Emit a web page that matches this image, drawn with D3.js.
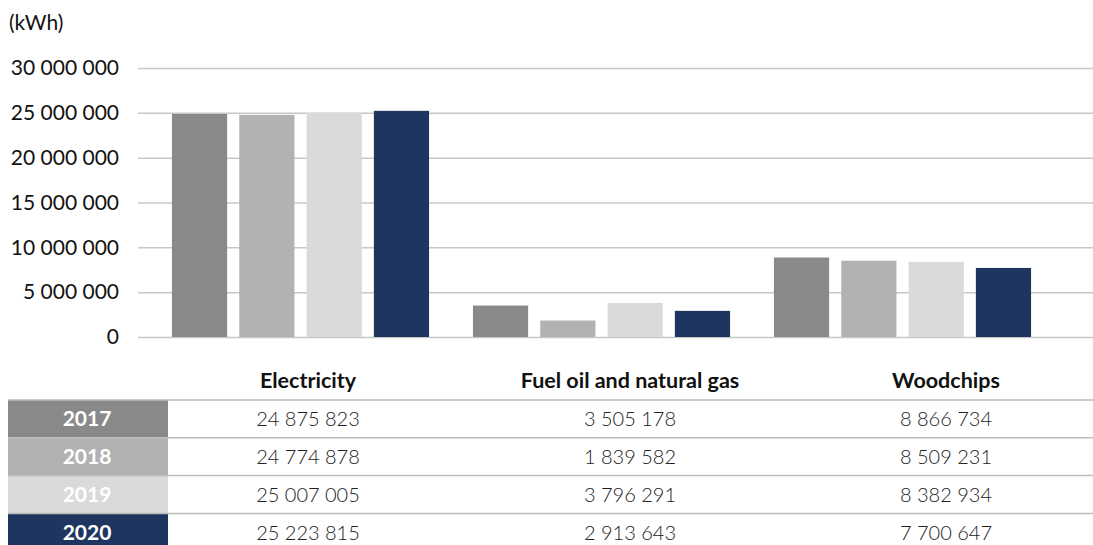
<!DOCTYPE html>
<html>
<head>
<meta charset="utf-8">
<script src="https://cdn.jsdelivr.net/npm/d3@7"></script>
<style>
  body { margin: 0; background: #fff; }
  svg { display: block; font-family: Lato, "Open Sans", sans-serif; }
</style>
</head>
<body>
<svg width="1093" height="545"></svg>
<script>
const categories = ["Electricity", "Fuel oil and natural gas", "Woodchips"];
const years = ["2017", "2018", "2019", "2020"];
const values2017 = [24875823, 3505178, 8866734];
const values2018 = [24774878, 1839582, 8509231];
const values2019 = [25007005, 3796291, 8382934];
const values2020 = [25223815, 2913643, 7700647];
const yTicks = [0, 5000000, 10000000, 15000000, 20000000, 25000000, 30000000];
const unitLabel = "(kWh)";

const series = [values2017, values2018, values2019, values2020];
const colors = ["#898989", "#b2b2b2", "#dadada", "#1e3560"];

const width = 1093;
const height = 545;
const plot = { left: 138, right: 1093, top: 68, bottom: 337 };

// space as thousands separator
const fmt = d3.formatLocale({ decimal: ",", thousands: " ", grouping: [3], currency: ["", ""] }).format(",d");

const svg = d3.select("svg");

// scales
const x0 = d3.scaleBand().domain(categories).range([150, 1053]);
const x1 = d3.scaleBand().domain(years).range([0, x0.bandwidth()])
  .paddingInner(0.18).paddingOuter(0.326);
const y = d3.scaleLinear().domain([0, 30000000]).range([plot.bottom, plot.top]);

// gridlines + y labels
const yAxis = d3.axisLeft(y).tickValues(yTicks).tickSize(-(plot.right - plot.left))
  .tickPadding(19).tickFormat(d => fmt(d));
const gy = svg.append("g").attr("transform", `translate(${plot.left},0)`).call(yAxis);
gy.select(".domain").remove();
gy.selectAll(".tick line").attr("stroke", "#c8c8c8").attr("stroke-width", 1.5);
gy.selectAll(".tick text").attr("fill", "#111").style("font-size", "21px")
  .style("font-family", "Lato, sans-serif");

svg.append("text").attr("x", 9).attr("y", 30).text(unitLabel)
  .attr("fill", "#111").style("font-size", "21px");

// bars
categories.forEach((cat, ci) => {
  const g = svg.append("g").attr("transform", `translate(${x0(cat)},0)`);
  g.selectAll("rect").data(years).join("rect")
    .attr("x", d => x1(d))
    .attr("width", x1.bandwidth())
    .attr("y", (d, i) => y(series[i][ci]))
    .attr("height", (d, i) => y(0) - y(series[i][ci]))
    .attr("fill", (d, i) => colors[i]);
});

// data table
const colCenters = [308, 630, 946];
const rowTop = 400;
const rowH = 37.8;
const table = svg.append("g");

table.selectAll(".hdr").data(categories).join("text")
  .attr("x", (d, i) => colCenters[i]).attr("y", 388)
  .attr("text-anchor", "middle").attr("font-weight", 700)
  .style("font-size", "21.5px").attr("fill", "#111").text(d => d);

years.forEach((yr, ri) => {
  const top = rowTop + ri * rowH;
  table.append("rect").attr("x", 8).attr("y", top).attr("width", 160).attr("height", rowH)
    .attr("fill", colors[ri]);
  table.append("line").attr("x1", 8).attr("x2", width).attr("y1", top).attr("y2", top)
    .attr("stroke", "#bdbdbd").attr("stroke-width", 1.5);
  table.append("text").attr("x", 87).attr("y", top + rowH / 2 + 7.5)
    .attr("text-anchor", "middle").attr("font-weight", 700)
    .style("font-size", "21px").attr("fill", "#fff").text(yr);
  table.selectAll(".v" + ri).data(series[ri]).join("text")
    .attr("x", (d, i) => colCenters[i]).attr("y", top + rowH / 2 + 7.5)
    .attr("text-anchor", "middle").attr("font-weight", 300)
    .style("font-size", "20px").attr("fill", "#222").text(d => fmt(d));
});
</script>
</body>
</html>
